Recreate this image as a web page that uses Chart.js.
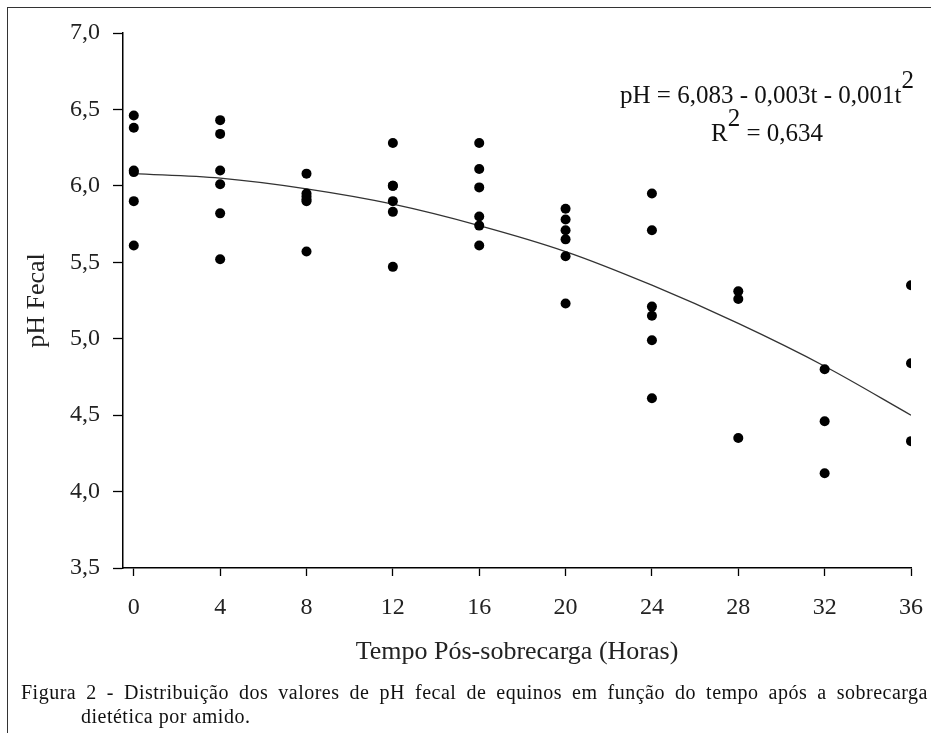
<!DOCTYPE html>
<html><head><meta charset="utf-8">
<script src="https://cdn.jsdelivr.net/npm/chart.js@4"></script>
<style>
html,body{margin:0;padding:0;background:#fff;}
#wrap{position:relative;width:931px;height:733px;overflow:hidden;background:#fff;}
#frame{position:absolute;left:7px;top:7px;width:1000px;height:1000px;border-left:1.5px solid #333;border-top:1.5px solid #333;}
#c{position:absolute;left:0;top:0;}
#eq{position:absolute;left:617px;top:76px;width:300px;text-align:center;font-family:'Liberation Serif','Times New Roman',serif;font-size:25px;line-height:38px;color:#111;white-space:nowrap;}
.sup{position:relative;top:-15px;}
#cap{position:absolute;left:21px;top:680px;width:907px;font-family:'Liberation Serif','Times New Roman',serif;font-size:20px;line-height:24px;color:#111;letter-spacing:0.5px;}
#cap .l1{text-align:justify;text-align-last:justify;white-space:nowrap;}
#cap .l2{padding-left:60px;}
</style>
</head><body>
<div id="wrap">
<canvas id="c" width="931" height="733"></canvas>
<div id="frame"></div>
<div id="eq"><div>pH = 6,083 - 0,003t - 0,001t<span class="sup">2</span></div><div>R<span class="sup">2</span> = 0,634</div></div>
<div id="cap"><div class="l1">Figura 2 - Distribuição dos valores de pH fecal de equinos em função do tempo após a sobrecarga</div><div class="l2">dietética por amido.</div></div>
</div>
<script>
// Data
const hours = [0, 4, 8, 12, 16, 20, 24, 28, 32, 36];
const ph_0h  = [6.46, 6.38, 6.10, 6.09, 5.90, 5.61];
const ph_4h  = [6.43, 6.34, 6.10, 6.01, 5.82, 5.52];
const ph_8h  = [6.08, 5.95, 5.93, 5.91, 5.90, 5.57];
const ph_12h = [6.28, 6.00, 6.00, 5.90, 5.83, 5.47];
const ph_16h = [6.28, 6.11, 5.99, 5.80, 5.74, 5.61];
const ph_20h = [5.85, 5.78, 5.71, 5.65, 5.54, 5.23];
const ph_24h = [5.95, 5.71, 5.21, 5.15, 4.99, 4.61];
const ph_28h = [5.31, 5.26, 4.35];
const ph_32h = [4.80, 4.46, 4.12];
const ph_36h = [5.35, 4.84, 4.33];
const trendPH = [6.08, 6.05, 5.98, 5.88, 5.74, 5.57, 5.35, 5.10, 4.82, 4.50];
const xTickValues = [0, 4, 8, 12, 16, 20, 24, 28, 32, 36];
const yTickValues = [3.5, 4.0, 4.5, 5.0, 5.5, 6.0, 6.5, 7.0];

const groups = [ph_0h, ph_4h, ph_8h, ph_12h, ph_16h, ph_20h, ph_24h, ph_28h, ph_32h, ph_36h];
const scatterPoints = [];
groups.forEach((vals, i) => vals.forEach(v => scatterPoints.push({x: hours[i], y: v})));
const trendPoints = hours.map((h, i) => ({x: h, y: trendPH[i]}));

const serif = 'Liberation Serif';
new Chart(document.getElementById('c'), {
  type: 'scatter',
  data: {
    datasets: [
      {
        type: 'line', data: trendPoints, showLine: true, borderColor: '#333', borderWidth: 1.3,
        pointRadius: 0, fill: false, cubicInterpolationMode: 'monotone', order: 2
      },
      {
        data: scatterPoints, backgroundColor: '#000', borderWidth: 0, pointRadius: 5, order: 1
      }
    ]
  },
  options: {
    responsive: false, animation: false, devicePixelRatio: 1,
    layout: {padding: {left: 0, top: 33, right: 20, bottom: 65}},
    plugins: {legend: {display: false}, tooltip: {enabled: false}},
    scales: {
      x: {
        type: 'linear', min: -0.5, max: 36,
        afterBuildTicks: ax => { ax.ticks = xTickValues.map(v => ({value: v})); },
        afterFit: ax => { ax.height = 100; ax.paddingLeft = 0; ax.paddingRight = 0; },
        grid: {drawOnChartArea: false, drawTicks: true, tickLength: 8, color: '#000', tickColor: '#000', tickWidth: 1.3},
        border: {color: '#000', width: 1.5},
        ticks: {font: {family: serif, size: 24}, color: '#222', padding: 17, maxRotation: 0, autoSkip: false},
        title: {display: true, text: 'Tempo Pós-sobrecarga (Horas)', font: {family: serif, size: 26}, color: '#222', padding: {top: 0, bottom: 0}}
      },
      y: {
        type: 'linear', min: 3.5, max: 7,
        afterBuildTicks: ax => { ax.ticks = yTickValues.map(v => ({value: v})); },
        afterFit: ax => { ax.width = 123; ax.paddingTop = 0; ax.paddingBottom = 0; },
        grid: {drawOnChartArea: false, drawTicks: true, tickLength: 10, color: '#000', tickColor: '#000', tickWidth: 1.3},
        border: {color: '#000', width: 1.5},
        ticks: {font: {family: serif, size: 24}, color: '#222', padding: 13, autoSkip: false,
                callback: v => Number(v).toFixed(1).replace('.', ',')},
        title: {display: true, text: 'pH Fecal', font: {family: serif, size: 26}, color: '#222', padding: {top: 22, bottom: 0}}
      }
    }
  }
});
</script>
</body></html>
